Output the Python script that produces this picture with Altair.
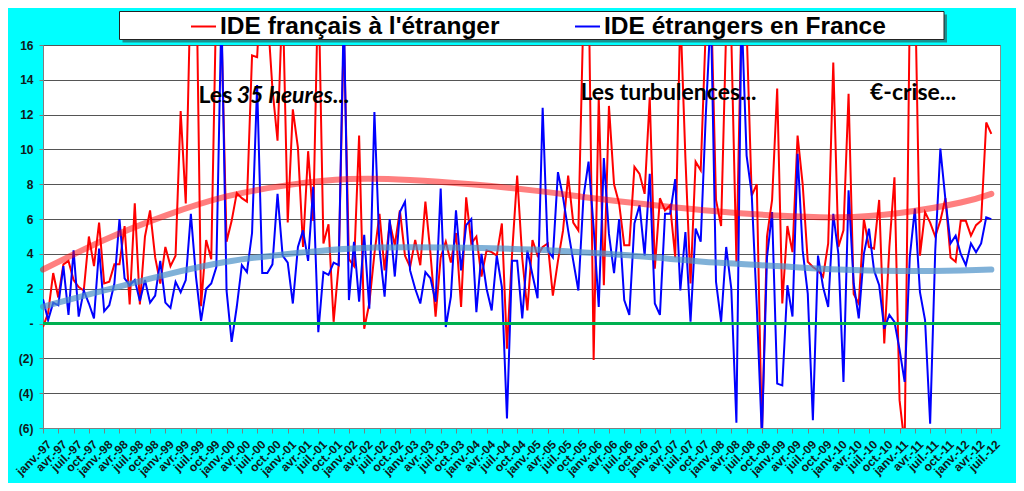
import json
import altair as alt
import pandas as pd

# ---------------- data ----------------
series_names = ["IDE français à l'étranger", "IDE étrangers en France"]

ide_fr_etranger = [
    -0.2, 0.6, 2.9, 1.5, 3.4, 3.6, 2.5, 2.1, 1.9, 5.0,
    3.3, 5.8, 2.3, 2.4, 3.4, 3.4, 5.6, 1.1, 6.9, 1.1,
    5.0, 6.5, 3.8, 2.3, 4.4, 3.3, 3.9, 12.2, 6.9, 20.0,
    22.0, 1.0, 4.8, 3.7, 19.0, 17.0, 4.7, 5.9, 7.5, 7.2,
    7.0, 15.4, 15.3, 21.0, 18.0, 13.5, 10.5, 19.0, 5.8, 12.3,
    10.1, 4.4, 9.9, 5.9, 20.0, 4.6, 5.7, 0.1, 3.4, 17.0,
    3.7, 3.3, 10.8, -0.3, 1.15, 4.0, 6.3, 3.05, 5.8, 4.5,
    6.5, 3.9, 3.25, 4.8, 3.35, 7.0, 4.0, 0.4, 3.8, 4.7,
    3.5, 5.2, 0.95, 7.25, 4.6, 5.0, 2.7, 4.2, 4.1, 3.9,
    5.75, -1.45, 4.0, 8.5, 3.75, 0.75, 4.8, 3.9, 4.4, 4.6,
    1.6, 3.6, 5.35, 8.5, 5.8, 5.35, 18.0, 20.0, -2.1, 13.0,
    2.2, 12.5, 8.0, 6.9, 4.5, 4.5, 9.0, 8.6, 7.45, 13.0,
    3.15, 7.2, 6.5, 6.8, 3.8, 18.0, 9.5, 2.3, 9.3, 8.8,
    17.0, 19.0, 7.1, 5.6, 17.0, 16.5, 3.55, 18.0, 17.0, 7.35,
    8.0, -6.5, 5.0, 7.1, 13.5, 1.15, 5.6, 4.1, 10.8, 8.0,
    3.55, 3.25, 3.05, 2.7, 4.6, 15.0, 4.4, 5.35, 13.2, 1.7,
    1.15, 6.0, 4.4, 4.3, 7.1, -1.15, 4.4, 8.4, -4.4, -7.0,
    18.0, 20.0, 3.9, 6.4, 5.8, 5.0, 5.9, 7.2, 3.8, 3.55,
    5.9, 5.9, 5.05, 5.65, 5.9, 11.55, 10.9,
]

ide_etr_france = [
    1.4, 0.2, 1.2, 1.05, 3.3, 0.5, 4.2, 0.4, 1.9, 1.15,
    0.3, 4.3, 0.7, 1.05, 2.3, 6.0, 2.6, 2.2, 2.5, 1.3,
    2.5, 1.2, 1.6, 3.6, 1.2, 0.9, 2.4, 1.8, 2.5, 6.3,
    2.7, 0.15, 2.0, 2.3, 3.25, 18.0, 1.9, -1.05, 0.95, 3.35,
    2.95, 5.2, 13.7, 2.9, 2.9, 3.4, 7.45, 3.9, 3.5, 1.15,
    4.4, 5.35, 3.6, 7.85, -0.5, 2.95, 2.8, 3.5, 3.35, 18.0,
    1.35, 4.7, 1.25, 5.1, 0.85, 12.15, 4.3, 1.55, 6.0, 2.7,
    6.4, 7.0, 3.05, 2.0, 1.15, 2.95, 2.6, 1.25, 7.75, -0.2,
    1.55, 6.5, 3.05, 5.65, 6.0, 0.65, 4.0, 2.0, 0.75, 3.9,
    2.1, -5.45, 3.6, 3.6, 0.3, 4.2, 2.8, 1.45, 12.4, 4.2,
    3.8, 8.7, 7.25, 5.35, 3.6, 1.9, 7.25, 9.3, 5.5, 0.95,
    9.5, 5.15, 2.9, 6.0, 1.35, 0.5, 5.75, 6.8, 3.9, 8.6,
    1.15, 0.5, 6.3, 6.3, 8.3, 1.9, 5.25, 0.1, 5.45, 4.7,
    12.0, 18.0, 2.4, 0.1, 4.4, 2.0, -5.7, 18.0, 9.65, 7.45,
    0.95, -6.5, 3.8, 6.4, -3.45, -3.55, 2.2, 0.4, 9.75, 4.2,
    1.7, -5.55, 3.9, 2.1, 0.95, 6.3, 4.0, -3.35, 7.65, 2.3,
    0.3, 4.0, 5.45, 3.05, 2.2, -0.3, 0.5, 0.1, -1.5, -3.35,
    3.8, 6.6, 1.8, 0.2, -5.75, 4.2, 10.05, 7.1, 4.6, 5.05,
    4.0, 3.35, 4.6, 4.1, 4.6, 6.1, 6.0,
]

# trend curves (at yearly anchors)
trend_months = [0, 12, 24, 36, 48, 60, 72, 84, 96, 108, 120, 132, 144, 156, 168, 180, 186]
trend_fr = [3.1, 4.8, 6.2, 7.3, 7.95, 8.3, 8.25, 8.0, 7.65, 7.2, 6.8, 6.45, 6.2, 6.1, 6.35, 6.95, 7.45]
trend_etr = [0.97, 1.9, 2.8, 3.55, 4.0, 4.3, 4.38, 4.35, 4.25, 4.05, 3.8, 3.5, 3.3, 3.1, 3.02, 3.05, 3.1]

# tick labels (every 3 months)
month_abbr = ["janv.", "avr.", "juil.", "oct."]
years = list(range(1997, 2013))
tick_labels = [f"{m}-{y % 100:02d}" for y in years for m in month_abbr][:63]
tick_values = [3 * k for k in range(len(tick_labels))]

y_ticks = [-6, -4, -2, 0, 2, 4, 6, 8, 10, 12, 14, 16]

# annotations
ann_plain_text = ["Les", "...", "Les turbulences...", "€-crise..."]
ann_plain_x = [30.5, 56.8, 105.4, 162.2]
ann_plain_y = [12.65, 12.65, 12.84, 12.84]
ann_ital_text = ["35 heures"]
ann_ital_x = [38.0]
ann_ital_y = [12.65]

# ---------------- tables ----------------
n = len(ide_fr_etranger)
df = pd.DataFrame({
    "mois": list(range(n)) * 2,
    "valeur": ide_fr_etranger + ide_etr_france,
    "serie": [series_names[0]] * n + [series_names[1]] * n,
})
df_trend_fr = pd.DataFrame({"mois": trend_months, "valeur": trend_fr})
df_trend_etr = pd.DataFrame({"mois": trend_months, "valeur": trend_etr})
df_plain = pd.DataFrame({"t": ann_plain_text, "mois": ann_plain_x, "valeur": ann_plain_y})
df_ital = pd.DataFrame({"t": ann_ital_text, "mois": ann_ital_x, "valeur": ann_ital_y})
df_zero = pd.DataFrame({"valeur": [0]})
df_one = pd.DataFrame({"a": [0]})

FONT = "Liberation Sans"

x_scale = alt.Scale(domain=[0, 187.7], nice=False, zero=False)
y_scale = alt.Scale(domain=[-6, 16], nice=False)

label_expr = json.dumps(tick_labels, ensure_ascii=False) + "[round(datum.value/3)]"
y_label_expr = "datum.value == 0 ? '-' : (datum.value < 0 ? '(' + abs(datum.value) + ')' : '' + datum.value)"

x_axis = alt.Axis(
    values=tick_values, labelExpr=label_expr, title=None, grid=False,
    labelAngle=-45, labelAlign="right", labelBaseline="middle",
    labelFont=FONT, labelFontSize=12, labelFontWeight="bold", labelColor="#111a1a",
    labelPadding=9, labelOffset=6, labelOverlap=False, labelBound=False, labelFlush=False,
    tickSize=5, tickColor="#7f7f7f", domainColor="#7f7f7f",
)
y_axis = alt.Axis(
    values=y_ticks, labelExpr=y_label_expr, title=None, grid=True,
    gridColor="#555555", gridWidth=1.2, labelOverlap=False, labelFlush=False,
    labelFont=FONT, labelFontSize=12, labelFontWeight="bold", labelColor="#111a1a",
    labelPadding=6, tickSize=4, tickColor="#7f7f7f", domainColor="#7f7f7f",
)

X = alt.X("mois:Q", scale=x_scale, axis=x_axis)
Y = alt.Y("valeur:Q", scale=y_scale, axis=y_axis)

legend_shadow = alt.Chart(df_one).mark_rect(color="#333333", opacity=0.55).encode(
    x=alt.value(79.5), x2=alt.value(904), y=alt.value(-30.5), y2=alt.value(-2.5)
)
legend_box = alt.Chart(df_one).mark_rect(fill="white", stroke="#222222", strokeWidth=1).encode(
    x=alt.value(76.5), x2=alt.value(901), y=alt.value(-33.5), y2=alt.value(-5.5)
)

lines = alt.Chart(df).mark_line(strokeWidth=2, clip=True).encode(
    x=X, y=Y,
    color=alt.Color(
        "serie:N",
        scale=alt.Scale(domain=series_names, range=["#ff0000", "#0000ff"]),
        sort=series_names,
        legend=alt.Legend(
            orient="none", legendX=147, legendY=-32, direction="horizontal",
            title=None, symbolType="stroke", symbolStrokeWidth=2, symbolSize=625,
            labelFont=FONT, labelFontSize=24.5, labelFontWeight="bold", labelColor="#000000",
            columnPadding=71, labelOffset=3, padding=0, labelLimit=0,
        ),
    ),
    detail="serie:N",
)

zero_line = alt.Chart(df_zero).mark_rule(color="#00b050", strokeWidth=3).encode(y=Y)

trend_r = alt.Chart(df_trend_fr).mark_line(
    color="#ff0000", opacity=0.5, strokeWidth=6, interpolate="natural", strokeCap="round"
).encode(x=X, y=Y)
trend_b = alt.Chart(df_trend_etr).mark_line(
    color="#4a90c8", opacity=0.7, strokeWidth=6, interpolate="natural", strokeCap="round"
).encode(x=X, y=Y)

txt_plain = alt.Chart(df_plain).mark_text(
    font="Lato", fontSize=23, fontWeight="bold", align="left", baseline="alphabetic", color="#000000"
).encode(x=X, y=Y, text="t:N")
txt_ital = alt.Chart(df_ital).mark_text(
    font="Lato", fontSize=23, fontWeight="bold", fontStyle="italic", align="left",
    baseline="alphabetic", color="#000000"
).encode(x=X, y=Y, text="t:N")

chart = alt.layer(
    legend_shadow, legend_box, lines, zero_line, trend_r, trend_b, txt_plain, txt_ital
).properties(
    width=957, height=383,
    autosize=alt.AutoSizeParams(type="none"),
    padding={"left": 35, "top": 37, "right": 16, "bottom": 55},
    background="#00ffff",
).configure_view(
    fill="white", stroke="#8c8c8c", strokeWidth=1
)

chart.save("out.html", embed_options={"renderer": "svg", "actions": False})
